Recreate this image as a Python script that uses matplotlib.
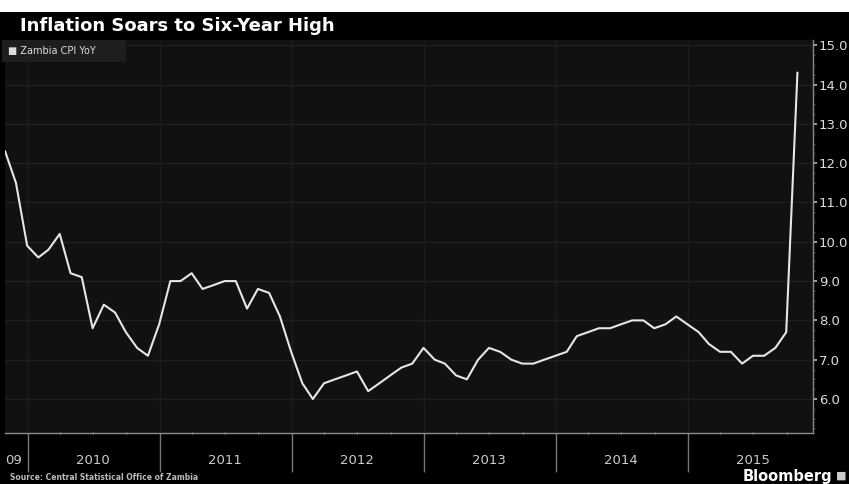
import pandas as pd
import matplotlib.pyplot as plt
import matplotlib.dates as mdates
from matplotlib.ticker import MultipleLocator, FormatStrFormatter

# monthly Zambia CPI YoY, Oct 2009 .. Oct 2015 (plotted at month end)
months = pd.date_range('2009-10-31', '2015-10-31', freq='ME')
cpi = [12.3, 11.5, 9.9,
       9.6, 9.8, 10.2, 9.2, 9.1, 7.8, 8.4, 8.2, 7.7, 7.3, 7.1, 7.9,
       9.0, 9.0, 9.2, 8.8, 8.9, 9.0, 9.0, 8.3, 8.8, 8.7, 8.1, 7.2,
       6.4, 6.0, 6.4, 6.5, 6.6, 6.7, 6.2, 6.4, 6.6, 6.8, 6.9, 7.3,
       7.0, 6.9, 6.6, 6.5, 7.0, 7.3, 7.2, 7.0, 6.9, 6.9, 7.0, 7.1,
       7.2, 7.6, 7.7, 7.8, 7.8, 7.9, 8.0, 8.0, 7.8, 7.9, 8.1, 7.9,
       7.7, 7.4, 7.2, 7.2, 6.9, 7.1, 7.1, 7.3, 7.7, 14.3]
years = [2010, 2011, 2012, 2013, 2014, 2015]
yticks = [6, 7, 8, 9, 10, 11, 12, 13, 14, 15]

title = 'Inflation Soars to Six-Year High'
series_name = 'Zambia CPI YoY'
source = 'Source: Central Statistical Office of Zambia'

fig = plt.figure(figsize=(8.49, 4.84), dpi=100, facecolor='black')
ax = fig.add_axes([0.006, 0.105, 0.952, 0.812])
ax.set_facecolor('#111111')

ax.plot(months, cpi, color='#e6e6e6', lw=1.5, zorder=3)

ax.set_xlim(pd.Timestamp('2009-10-31'), pd.Timestamp('2015-12-14'))
ax.set_ylim(5.13, 15.13)

# y axis on the right
ax.yaxis.tick_right()
ax.set_yticks(yticks)
ax.yaxis.set_major_formatter(FormatStrFormatter('%.1f'))
ax.yaxis.set_minor_locator(MultipleLocator(0.25))
ax.tick_params(axis='y', which='major', colors='#bbbbbb', labelcolor='#dddddd',
               labelsize=9.5, length=3, width=1.2, pad=1)
ax.tick_params(axis='y', which='minor', colors='#555555', length=1.5)

# x axis: long ticks at year starts, short ones at quarters
ax.xaxis.set_major_locator(mdates.YearLocator())
ax.xaxis.set_minor_locator(mdates.MonthLocator(bymonth=[4, 7, 10]))
ax.xaxis.set_major_formatter(plt.NullFormatter())
ax.tick_params(axis='x', which='major', colors='#777777', length=28, width=1)
ax.tick_params(axis='x', which='minor', colors='#888888', length=2, width=1,
               direction='inout')

for yr in years:
    ax.text(pd.Timestamp(f'{yr}-07-01'), -0.07, str(yr), transform=ax.get_xaxis_transform(),
            ha='center', va='center', color='#cccccc', fontsize=9.5)
ax.text(0.0, -0.07, '09', transform=ax.transAxes, ha='left', va='center',
        color='#cccccc', fontsize=9.5)

# faint grid
ax.grid(axis='y', which='major', color='#1f1f1f', lw=1)
ax.grid(axis='x', which='major', color='#1c1c1c', lw=1)

for side in ['top', 'left']:
    ax.spines[side].set_visible(False)
for side in ['right', 'bottom']:
    ax.spines[side].set_color('#8a8a8a')
    ax.spines[side].set_linewidth(1)

# legend box
ax.text(0.003, 0.985, '\u25a0 ' + series_name + '        ', transform=ax.transAxes,
        ha='left', va='top', color='#dddddd', fontsize=7,
        bbox=dict(boxstyle='square,pad=0.6', facecolor='#1e1e1e', edgecolor='none'))

# white strip above the title
fig.patches.append(plt.Rectangle((0, 1 - 12 / 484), 1, 12 / 484, transform=fig.transFigure,
                                 facecolor='white', edgecolor='none'))

fig.text(20 / 849, 1 - 26 / 484, title, color='white', fontsize=13, fontweight='bold',
         ha='left', va='center')
fig.text(10 / 849, 1 - 478 / 484, source, color='#bbbbbb', fontsize=5.5, fontweight='bold',
         ha='left', va='center')
fig.text(832 / 849, 1 - 476 / 484, 'Bloomberg', color='white', fontsize=10.5,
         fontweight='semibold', ha='right', va='center')
fig.text(836 / 849, 1 - 476 / 484, '\u25a0', color='#cccccc', fontsize=8,
         ha='left', va='center')

fig.savefig('out.png', dpi=100, facecolor='black')
